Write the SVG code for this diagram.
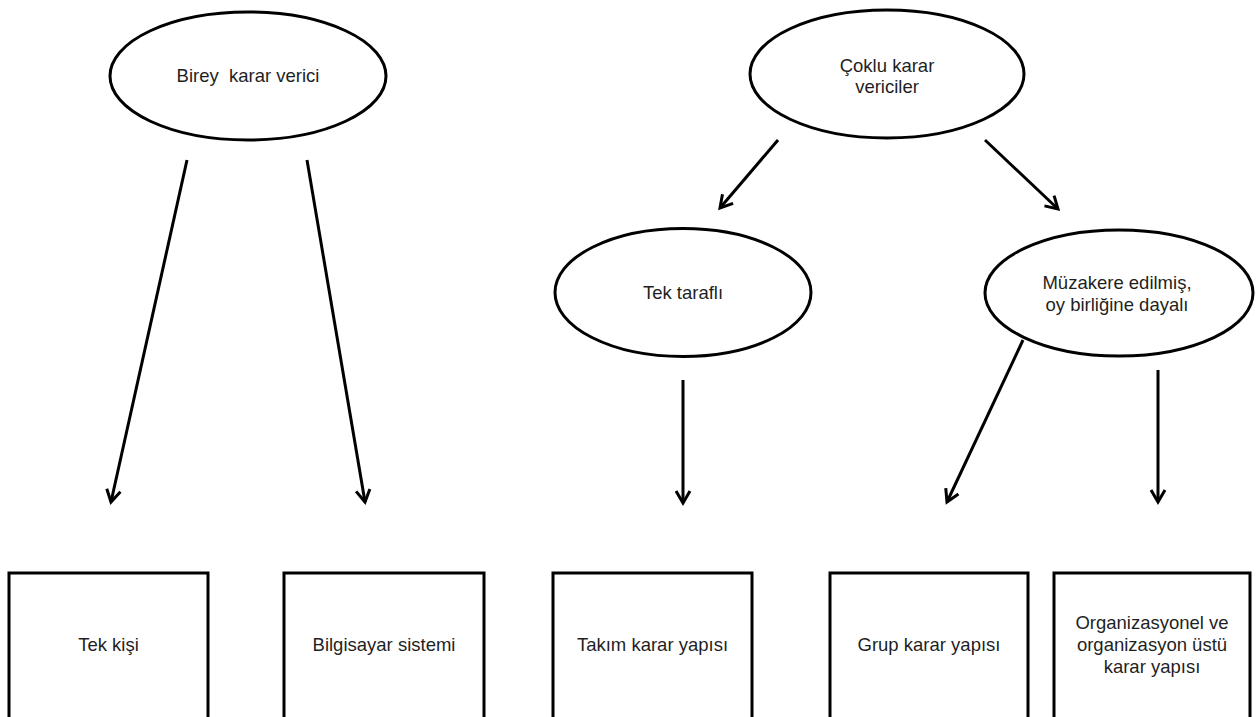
<svg xmlns="http://www.w3.org/2000/svg" width="1259" height="717" viewBox="0 0 1259 717">
<style>
.shape{fill:#ffffff;stroke:#000000;stroke-width:3}
.lbl{font-family:"Liberation Sans",Arial,sans-serif;font-size:18.5px;fill:#1f1f1f;text-anchor:middle}
.conn{stroke:#000000;stroke-width:3;fill:none;marker-end:url(#ah)}
</style>
<defs>
<marker id="ah" viewBox="-14 -10 17 20" refX="0" refY="0" markerWidth="17" markerHeight="20" markerUnits="userSpaceOnUse" orient="auto">
<path d="M-12,-7 L0,0 L-12,7" fill="none" stroke="#000000" stroke-width="3"/>
</marker>
</defs>
<rect width="1259" height="717" fill="#ffffff"/>
<g id="connectors">
<line class="conn" x1="187" y1="160" x2="111" y2="502"/>
<line class="conn" x1="307" y1="160" x2="365" y2="502"/>
<line class="conn" x1="778" y1="140" x2="720" y2="208"/>
<line class="conn" x1="985" y1="140" x2="1058" y2="209"/>
<line class="conn" x1="683" y1="380" x2="683" y2="503"/>
<line class="conn" x1="1023" y1="340" x2="947" y2="502"/>
<line class="conn" x1="1158" y1="370" x2="1158" y2="502"/>
</g>
<g id="birey">
<ellipse class="shape" cx="248" cy="76" rx="138" ry="64"/>
<text class="lbl" x="248" y="82" xml:space="preserve">Birey  karar verici</text>
</g>
<g id="coklu">
<ellipse class="shape" cx="887" cy="74" rx="137" ry="64"/>
<text class="lbl" x="887" y="72">Çoklu karar</text>
<text class="lbl" x="887" y="93">vericiler</text>
</g>
<g id="tektarafli">
<ellipse class="shape" cx="683" cy="292.5" rx="128" ry="64"/>
<text class="lbl" x="683" y="299">Tek taraflı</text>
</g>
<g id="muzakere">
<ellipse class="shape" cx="1119" cy="293" rx="134" ry="63"/>
<text class="lbl" x="1117" y="289">Müzakere edilmiş,</text>
<text class="lbl" x="1117" y="311">oy birliğine dayalı</text>
</g>
<g id="tekkisi">
<rect class="shape" x="9" y="573" width="199" height="170"/>
<text class="lbl" x="108.5" y="651">Tek kişi</text>
</g>
<g id="bilgisayar">
<rect class="shape" x="284" y="573" width="200" height="170"/>
<text class="lbl" x="384" y="651">Bilgisayar sistemi</text>
</g>
<g id="takim">
<rect class="shape" x="553" y="573" width="199" height="170"/>
<text class="lbl" x="652.5" y="651">Takım karar yapısı</text>
</g>
<g id="grup">
<rect class="shape" x="830" y="573" width="198" height="170"/>
<text class="lbl" x="929" y="651">Grup karar yapısı</text>
</g>
<g id="organizasyon">
<rect class="shape" x="1054" y="573" width="196" height="170"/>
<text class="lbl" x="1152" y="629">Organizasyonel ve</text>
<text class="lbl" x="1152" y="651">organizasyon üstü</text>
<text class="lbl" x="1152" y="673">karar yapısı</text>
</g>
</svg>
